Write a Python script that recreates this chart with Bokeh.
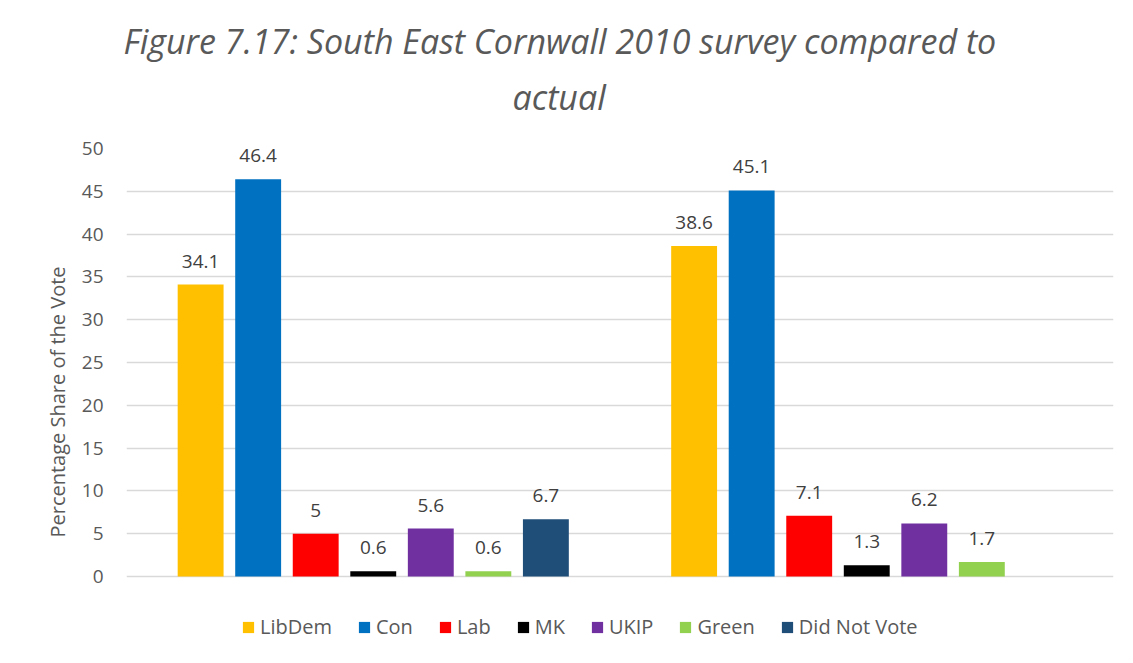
from bokeh.plotting import figure
from bokeh.models import ColumnDataSource, Legend, LegendItem, Title, Range1d, FactorRange, LabelSet, FixedTicker
from bokeh.core.properties import value
from bokeh.transform import dodge
from bokeh.embed import file_html
from bokeh.resources import INLINE

groups = ["Survey", "Actual"]
series = ["LibDem", "Con", "Lab", "MK", "UKIP", "Green", "Did Not Vote"]
colors = ["#FFC000", "#0070C0", "#FF0000", "#000000", "#7030A0", "#92D050", "#1F4E79"]
values = {
    "LibDem": [34.1, 38.6],
    "Con": [46.4, 45.1],
    "Lab": [5, 7.1],
    "MK": [0.6, 1.3],
    "UKIP": [5.6, 6.2],
    "Green": [0.6, 1.7],
    "Did Not Vote": [6.7, None],
}
y_ticks = [0, 5, 10, 15, 20, 25, 30, 35, 40, 45, 50]

FONT = "Open Sans"
# frame extends below zero so the legend sits inside the frame (below the 0 line)
p = figure(frame_width=987, frame_height=507, x_range=FactorRange(*groups), y_range=Range1d(-9.23, 50),
           output_backend="svg", toolbar_location=None,
           min_border_left=126, min_border_right=20, min_border_top=148, min_border_bottom=8)

p.add_layout(Title(text="actual", align="left", offset=386, text_font=FONT, text_font_style="italic",
                   text_font_size="34px", text_color="#595959", standoff=58), "above")
p.add_layout(Title(text="Figure 7.17: South East Cornwall 2010 survey compared to", align="left", offset=-3,
                   text_font=FONT, text_font_style="italic", text_font_size="34px",
                   text_color="#595959", standoff=-42), "above")

slot = 0.1166
bw = 0.093
items = []
for i, s in enumerate(series):
    xs = [g for g, v in zip(groups, values[s]) if v is not None]
    ys = [v for v in values[s] if v is not None]
    labels = [("%g" % v) for v in ys]
    src = ColumnDataSource(dict(x=xs, y=ys, label=labels))
    off = (i - 3) * slot
    r = p.vbar(x=dodge("x", off, range=p.x_range), top="y", width=bw, source=src,
               fill_color=colors[i], line_color=None)
    lbl = LabelSet(x=dodge("x", off, range=p.x_range), y="y", text="label", source=src,
                   text_align="center", text_baseline="alphabetic", y_offset=17,
                   text_font=value(FONT), text_font_size="19px", text_color="#404040")
    p.add_layout(lbl)
    items.append(LegendItem(label=s, renderers=[r]))

legend = Legend(items=items, orientation="horizontal", location=(115, 15),
                label_text_font=FONT, label_text_font_size="20px", label_text_color="#595959",
                glyph_width=14, glyph_height=14, spacing=25, label_standoff=5,
                border_line_color=None, background_fill_alpha=0, padding=0, margin=0)
p.add_layout(legend, "center")

p.yaxis.ticker = FixedTicker(ticks=y_ticks)
p.yaxis.axis_label = "Percentage Share of the Vote"
p.yaxis.axis_label_text_font = FONT
p.yaxis.axis_label_text_font_size = "20px"
p.yaxis.axis_label_text_font_style = "normal"
p.yaxis.axis_label_text_color = "#595959"
p.yaxis.axis_label_standoff = 8
p.yaxis.major_label_text_font = FONT
p.yaxis.major_label_text_font_size = "19px"
p.yaxis.major_label_text_color = "#595959"
p.yaxis.axis_line_color = None
p.yaxis.major_tick_line_color = None
p.yaxis.minor_tick_line_color = None
p.yaxis.major_label_standoff = 17

p.xaxis.visible = False
p.xgrid.grid_line_color = None
p.ygrid.grid_line_color = "#D9D9D9"
p.ygrid.grid_line_width = 1.5
p.outline_line_color = None
p.border_fill_color = "white"

open("out.html", "w").write(file_html(p, INLINE))
